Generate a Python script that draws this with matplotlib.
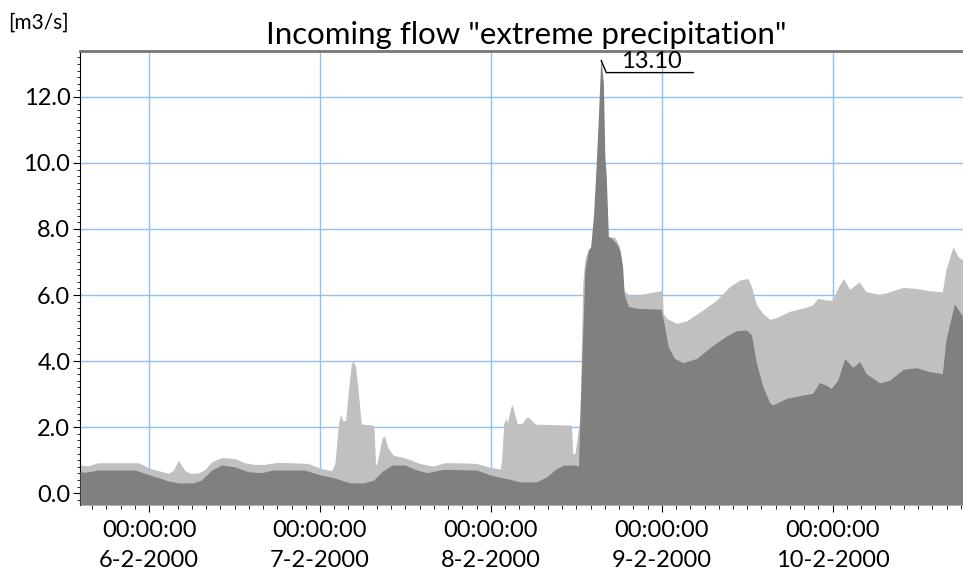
import numpy as np
import matplotlib.pyplot as plt
import matplotlib.dates as mdates
from matplotlib.lines import Line2D
from matplotlib.ticker import MultipleLocator, FormatStrFormatter, FuncFormatter
from matplotlib.transforms import IdentityTransform
from datetime import datetime, timedelta

plt.rcParams['font.family'] = ['Lato', 'DejaVu Sans']

start = datetime(2000, 2, 6)

# total incoming flow (hours after 6-2-2000 00:00, m3/s)
light_hours = [-9.7, -8.6, -7.2, -1.5, 0.1, 2.7, 3.4, 4.1, 5.0, 5.7, 6.9, 7.8, 8.8,
               10.2, 12.0, 13.4, 14.8, 16.2, 17.9, 20.0, 22.3, 24.1, 25.6, 26.1,
               26.6, 26.9, 27.2, 27.6, 28.0, 28.4, 28.7, 29.0, 29.4, 29.8, 31.5,
               31.6, 31.8, 32.0, 32.7, 33.0, 33.6, 34.3, 36.2, 38.0, 39.9, 41.5,
               43.6, 46.0, 47.9, 49.3, 49.5, 49.8, 50.1, 50.3, 50.8, 51.0, 51.3,
               51.7, 52.4, 52.9, 53.2, 53.7, 54.2, 59.3, 59.5, 59.8, 60.1, 60.5,
               60.9, 61.2, 61.7, 62.5, 63.5, 64.6, 65.4, 66.0, 66.3, 66.7, 67.3,
               68.4, 69.8, 71.9, 72.0, 72.2, 72.7, 74.1, 75.5, 77.8, 79.7, 81.5,
               82.9, 84.1, 84.6, 85.3, 86.2, 87.2, 88.1, 90.0, 91.8, 93.2, 93.9,
               95.1, 96.0, 96.7, 97.5, 98.4, 99.7, 100.7, 102.6, 104.0, 105.9,
               107.7, 109.6, 111.4, 111.9, 112.9, 113.6, 114.3]
light_q = [0.85, 0.83, 0.92, 0.92, 0.75, 0.60, 0.69, 1.00, 0.69, 0.60, 0.61, 0.71, 0.95,
           1.08, 1.05, 0.92, 0.87, 0.87, 0.93, 0.92, 0.90, 0.75, 0.68, 0.90,
           2.11, 2.39, 2.19, 2.21, 3.12, 3.93, 3.98, 3.83, 3.02, 2.09, 2.06,
           1.91, 0.85, 0.90, 1.65, 1.74, 1.35, 1.15, 1.05, 0.90, 0.82, 0.92,
           0.92, 0.90, 0.78, 0.73, 0.99, 2.11, 2.26, 2.13, 2.61, 2.67, 2.41,
           2.11, 2.11, 2.28, 2.31, 2.21, 2.09, 2.06, 1.20, 1.20, 1.65, 2.31,
           6.35, 7.07, 7.40, 7.50, 7.60, 7.77, 7.75, 7.50, 7.16, 6.15, 6.00,
           6.00, 6.05, 6.13, 6.15, 5.44, 5.29, 5.14, 5.22, 5.55, 5.85, 6.25,
           6.45, 6.50, 6.25, 5.70, 5.44, 5.26, 5.32, 5.51, 5.60, 5.70, 5.90,
           5.85, 5.85, 6.20, 6.50, 6.17, 6.40, 6.10, 6.02, 6.10, 6.23,
           6.20, 6.13, 6.10, 6.76, 7.46, 7.16, 7.06]

# base inflow
dark_hours = [-9.7, -9.0, -7.2, -2.0, 0.1, 2.7, 4.1, 6.2, 7.3, 8.8, 10.2, 12.0, 13.9,
              15.8, 17.4, 21.8, 24.1, 25.9, 28.2, 30.1, 31.5, 32.7, 34.1, 35.9,
              37.6, 39.0, 40.4, 41.3, 46.0, 47.9, 50.2, 52.1, 54.4, 55.8, 57.2,
              58.2, 59.8, 60.3, 60.5, 60.9, 61.2, 61.7, 62.0, 62.4, 62.7, 63.1,
              63.4, 63.5, 63.8, 64.0, 64.2, 64.5, 64.9, 65.6, 66.1, 66.5, 66.7,
              67.3, 68.4, 71.9, 72.4, 72.9, 73.8, 75.0, 76.9, 79.2, 81.1, 82.5,
              83.9, 84.6, 85.3, 86.2, 87.2, 87.6, 89.5, 91.8, 93.2, 94.1, 95.1,
              95.8, 96.7, 97.7, 98.8, 99.8, 100.7, 102.6, 104.0, 105.9, 107.7,
              109.6, 111.4, 111.9, 113.1, 113.8, 114.3]
dark_q = [0.65, 0.63, 0.70, 0.70, 0.55, 0.37, 0.31, 0.31, 0.39, 0.70, 0.85, 0.80, 0.65,
          0.62, 0.70, 0.70, 0.55, 0.47, 0.31, 0.31, 0.39, 0.65, 0.85, 0.85,
          0.70, 0.62, 0.68, 0.72, 0.70, 0.55, 0.44, 0.34, 0.34, 0.49, 0.74,
          0.85, 0.85, 0.82, 2.30, 4.85, 6.76, 7.36, 7.45, 8.38, 9.58, 11.40,
          13.00, 13.10, 12.40, 10.20, 9.60, 7.77, 7.72, 7.57, 7.36, 6.85, 6.05,
          5.65, 5.60, 5.57, 5.04, 4.43, 4.08, 3.95, 4.08, 4.48, 4.76, 4.92,
          4.94, 4.79, 3.93, 3.22, 2.72, 2.67, 2.87, 2.97, 3.02, 3.35, 3.27,
          3.17, 3.42, 4.08, 3.81, 3.98, 3.62, 3.34, 3.42, 3.75, 3.80,
          3.68, 3.62, 4.64, 5.73, 5.50, 5.34]

t_light = [start + timedelta(hours=h) for h in light_hours]
t_dark = [start + timedelta(hours=h) for h in dark_hours]

y_min, y_max = -0.36, 13.39

fig = plt.figure(figsize=(9.63, 5.72), dpi=100)
ax = fig.add_axes([0.0831, 0.1171, 0.9169, 0.7937])

ax.fill_between(t_light, light_q, y_min, color='#c0c0c0', lw=0, zorder=2)
ax.fill_between(t_dark, dark_q, y_min, color='#808080', lw=0, zorder=3)

ax.set_xlim(t_light[0], t_light[-1])
ax.set_ylim(y_min, y_max)

ax.xaxis.set_major_locator(mdates.DayLocator())
ax.xaxis.set_minor_locator(mdates.HourLocator(byhour=range(0, 24, 2)))


def fmt_date(x, pos):
    d = mdates.num2date(x)
    return f"{d:%H:%M:%S}\n{d.day}-{d.month}-{d.year}"


ax.xaxis.set_major_formatter(FuncFormatter(fmt_date))
ax.yaxis.set_major_locator(MultipleLocator(2))
ax.yaxis.set_minor_locator(MultipleLocator(0.2))
ax.yaxis.set_major_formatter(FormatStrFormatter('%.1f'))

ax.grid(True, which='major', color='#8fc1f2', lw=1)
ax.set_axisbelow(True)

for s in ['right', 'bottom']:
    ax.spines[s].set_visible(False)
ax.spines['top'].set_color('#777777')
ax.spines['top'].set_linewidth(2)
ax.spines['left'].set_color('black')

ax.tick_params(axis='y', which='major', length=5, labelsize=17, pad=2)
ax.tick_params(axis='y', which='minor', length=2.5)
ax.tick_params(axis='x', which='major', length=5, labelsize=17, pad=6)
ax.tick_params(axis='x', which='minor', length=3)
for lbl in ax.get_xticklabels():
    lbl.set_linespacing(1.5)

fig.text(0.546, 0.923, 'Incoming flow "extreme precipitation"', ha='center',
         va='baseline', fontsize=22.5)
fig.text(0.008, 0.96, '[m3/s]', ha='left', va='center', fontsize=15)

# callout on the peak value
i_peak = int(np.argmax(dark_q))
px, py = ax.transData.transform((mdates.date2num(t_dark[i_peak]), dark_q[i_peak]))
fig.add_artist(Line2D([px, px + 5, px + 92], [py, py - 12, py - 12],
                      color='black', lw=1, transform=IdentityTransform()))
fig.text((px + 50) / fig.bbox.width, (py - 11) / fig.bbox.height,
         f"{dark_q[i_peak]:.2f}", ha='center', va='bottom', fontsize=17)

fig.savefig('out.png', dpi=100)
